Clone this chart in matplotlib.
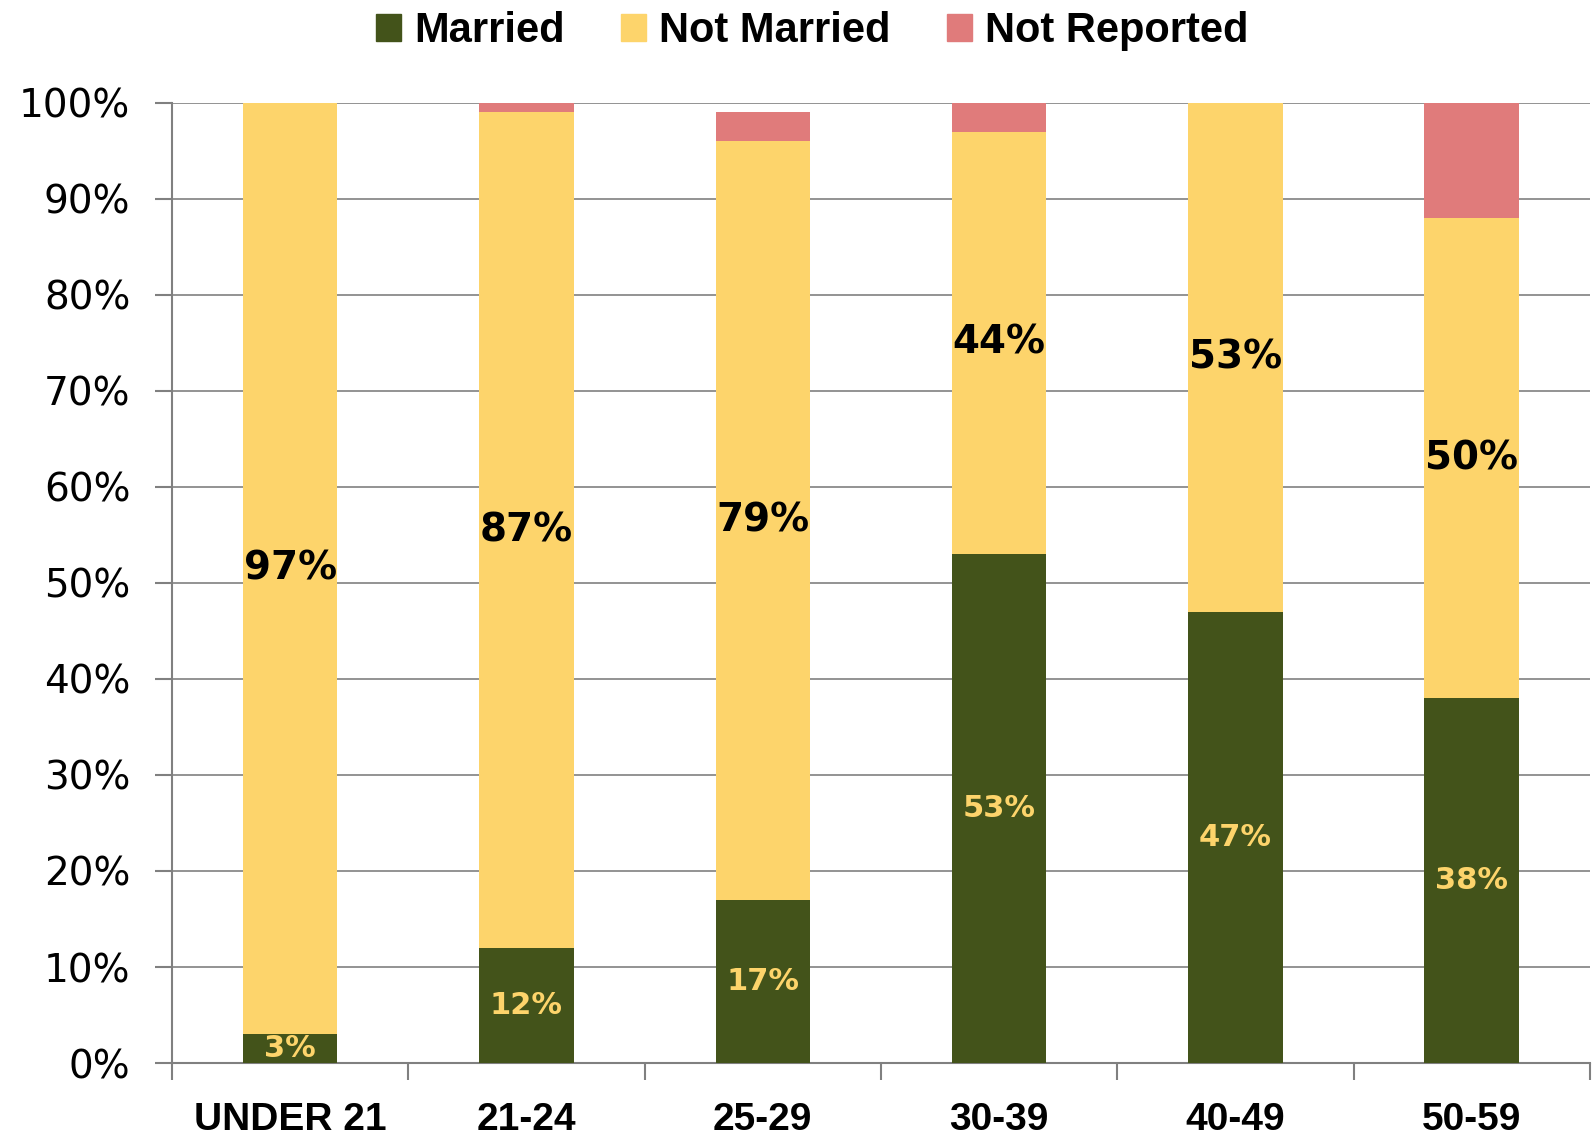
import matplotlib
matplotlib.use("Agg")
import matplotlib.pyplot as plt
import numpy as np
from matplotlib.patches import Patch

categories = ["UNDER 21", "21-24", "25-29", "30-39", "40-49", "50-59"]
married = [3, 12, 17, 53, 47, 38]
not_married = [97, 87, 79, 44, 53, 50]
not_reported = [0, 1, 3, 3, 0, 12]
y_ticks = [0, 10, 20, 30, 40, 50, 60, 70, 80, 90, 100]

C_MARRIED = "#43531A"
C_NOT_MARRIED = "#FDD46B"
C_NOT_REPORTED = "#E07B7B"

lib = ["Liberation Sans", "DejaVu Sans"]
dejavu = ["DejaVu Sans"]

fig = plt.figure(figsize=(15.93, 11.35), dpi=100)
ax = fig.add_axes([0.108, 0.0634, 0.89, 0.846])

x = np.arange(len(categories))
w = 0.4
married_arr = np.array(married)
nm_arr = np.array(not_married)
nr_arr = np.array(not_reported)

ax.bar(x, married_arr, w, color=C_MARRIED, zorder=3)
ax.bar(x, nm_arr, w, bottom=married_arr, color=C_NOT_MARRIED, zorder=3)
ax.bar(x, nr_arr, w, bottom=married_arr + nm_arr, color=C_NOT_REPORTED, zorder=3)

# value labels centred in each segment
for i in range(len(categories)):
    ax.text(x[i], married_arr[i] / 2, f"{married[i]}%", ha="center", va="center",
            color=C_NOT_MARRIED, fontsize=22, fontweight="bold", family=dejavu, zorder=4)
    ax.text(x[i], married_arr[i] + nm_arr[i] / 2, f"{not_married[i]}%", ha="center",
            va="center", color="black", fontsize=28, fontweight="bold", family=dejavu,
            zorder=4)

ax.set_xlim(-0.5, len(categories) - 0.5)
ax.set_ylim(0, 100)
ax.set_yticks(y_ticks)
ax.set_yticklabels([f"{v}%" for v in y_ticks], fontsize=28, family=dejavu)
ax.set_xticks(np.arange(-0.5, len(categories), 1.0))
ax.set_xticklabels([])
ax.set_xticks(x, minor=True)
ax.set_xticklabels(categories, minor=True, fontsize=28, fontweight="bold", family=lib)
ax.tick_params(axis="x", which="major", length=12, color="#808080", width=1.5)
ax.tick_params(axis="x", which="minor", length=0, pad=28)
ax.tick_params(axis="y", length=12, color="#808080", width=1.5, pad=18)

ax.grid(axis="y", color="#808080", linewidth=1.2, zorder=0)
for side in ["top", "right"]:
    ax.spines[side].set_visible(False)
for side in ["left", "bottom"]:
    ax.spines[side].set_color("#808080")
    ax.spines[side].set_linewidth(1.5)

handles = [Patch(color=C_MARRIED), Patch(color=C_NOT_MARRIED), Patch(color=C_NOT_REPORTED)]
fig.legend(handles, ["Married", "Not Married", "Not Reported"], loc="upper center",
           bbox_to_anchor=(0.51, 1.023), ncol=3, frameon=False, handlelength=0.6,
           handleheight=0.6, handletextpad=0.31, columnspacing=1.35,
           prop={"family": lib, "weight": "bold", "size": 30})

fig.savefig("out.png", dpi=100)
